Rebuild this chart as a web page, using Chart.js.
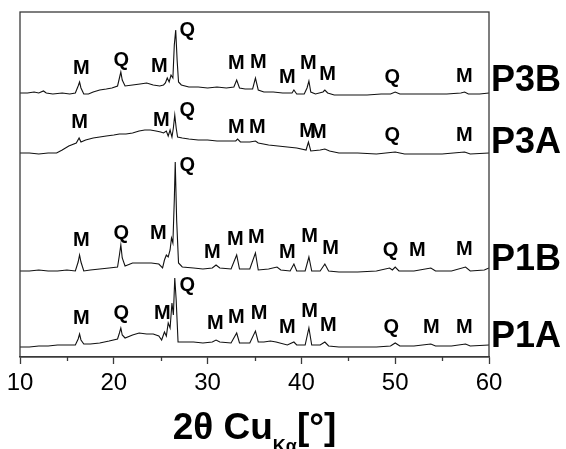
<!DOCTYPE html>
<html lang="en">
<head>
    <meta charset="UTF-8">
    <title>XRD patterns</title>
    <script src="https://cdn.jsdelivr.net/npm/chart.js"></script>
    <style>
        body { margin: 0; background: #fff; }
        #wrap { width: 566px; height: 449px; }
    </style>
</head>
<body>
    <div id="wrap"><canvas id="xrd"></canvas></div>

    <script>
        // traces, intensities offset per sample (a.u.)
        const p3bTheta = [10.0, 10.8, 11.5, 12.0, 12.5, 12.8, 13.5, 14.5, 15.3, 15.9, 16.2, 16.35, 16.5, 16.8, 17.3, 17.8, 18.5, 19.2, 19.8, 20.4, 20.6, 20.75, 20.9, 21.2, 22.0, 22.8, 23.5, 24.2, 24.9, 25.3, 25.5, 25.7, 25.9, 26.1, 26.3, 26.45, 26.6, 26.75, 26.9, 27.2, 28.0, 29.0, 30.0, 31.0, 32.0, 32.8, 33.1, 33.4, 34.0, 34.8, 35.1, 35.4, 36.0, 37.0, 38.0, 39.0, 39.2, 39.5, 40.3, 40.6, 40.8, 41.0, 41.5, 42.3, 42.5, 42.8, 43.5, 45.0, 47.0, 48.5, 49.5, 50.0, 50.5, 52.0, 54.0, 55.5, 57.0, 57.4, 57.8, 59.0, 60.0];
        const p3bCounts = [264, 264, 265, 264, 266, 264, 263, 264, 263, 264, 271, 275, 269, 263, 263, 265, 267, 268, 269, 271, 279, 285, 277, 271, 272, 273, 274, 272, 271, 272, 274, 279, 275, 282, 279, 312, 327, 297, 275, 272, 270, 270, 269, 270, 269, 270, 277, 269, 268, 268, 279, 267, 265, 265, 264, 264, 267, 263, 263, 269, 276, 265, 263, 265, 267, 264, 262, 262, 262, 263, 263, 265, 263, 263, 263, 263, 264, 265, 263, 263, 264];

        const p3aTheta = [10.0, 11.0, 12.0, 13.0, 13.9, 14.5, 15.2, 16.0, 16.3, 16.5, 17.0, 17.8, 18.5, 19.2, 20.0, 20.6, 21.3, 22.0, 22.7, 23.3, 23.9, 24.5, 25.0, 25.3, 25.6, 25.8, 26.0, 26.2, 26.35, 26.5, 26.65, 26.8, 27.3, 28.0, 29.0, 30.0, 31.0, 32.0, 33.0, 33.2, 33.5, 34.5, 35.1, 35.4, 36.5, 37.5, 38.5, 39.5, 40.5, 40.75, 41.0, 42.0, 42.5, 43.0, 44.0, 46.0, 48.0, 50.0, 51.0, 53.0, 55.0, 57.4, 58.0, 60.0];
        const p3aCounts = [204, 204, 203, 204, 204, 207, 211, 214, 219, 215, 217, 219, 220, 221, 222, 223, 223, 224, 226, 227, 227, 226, 225, 224, 226, 221, 227, 220, 229, 242, 229, 220, 219, 218, 217, 217, 216, 216, 216, 218, 215, 215, 216, 214, 212, 211, 210, 209, 207, 215, 206, 207, 208, 206, 204, 204, 203, 205, 203, 203, 203, 205, 203, 204];

        const p1bTheta = [10.0, 11.0, 12.0, 13.0, 14.0, 15.0, 15.9, 16.2, 16.35, 16.5, 16.8, 17.5, 18.5, 19.5, 20.4, 20.6, 20.75, 20.9, 21.2, 22.0, 23.0, 24.0, 24.8, 25.2, 25.4, 25.6, 25.8, 26.0, 26.15, 26.3, 26.45, 26.55, 26.7, 26.9, 27.3, 28.5, 29.5, 30.5, 30.9, 31.3, 32.5, 33.1, 33.4, 34.5, 35.1, 35.4, 36.5, 37.4, 37.8, 38.8, 39.2, 39.5, 40.4, 40.8, 41.1, 42.0, 42.5, 42.9, 44.0, 46.0, 48.0, 49.4, 49.7, 50.0, 50.4, 52.0, 53.8, 54.3, 56.0, 57.5, 58.0, 59.5, 60.0];
        const p1bCounts = [86, 86, 87, 86, 86, 87, 86, 95, 102, 95, 86, 87, 88, 89, 90, 102, 112, 99, 91, 94, 94, 94, 93, 89, 97, 102, 100, 107, 119, 114, 157, 195, 137, 94, 90, 89, 88, 89, 92, 89, 88, 102, 88, 88, 104, 87, 88, 90, 87, 86, 93, 86, 86, 100, 86, 86, 93, 86, 85, 85, 86, 89, 87, 90, 86, 86, 89, 86, 86, 90, 86, 87, 89];

        const p1aTheta = [10.0, 11.0, 12.0, 13.0, 14.0, 15.0, 15.9, 16.2, 16.35, 16.5, 16.8, 17.5, 18.5, 19.5, 20.4, 20.6, 20.75, 20.9, 21.2, 22.0, 22.7, 23.5, 24.2, 24.8, 25.1, 25.4, 25.6, 25.8, 26.0, 26.2, 26.35, 26.5, 26.65, 26.85, 27.5, 28.5, 29.5, 30.5, 30.9, 31.3, 32.5, 33.1, 33.4, 34.5, 35.1, 35.4, 36.0, 36.7, 37.3, 38.5, 39.2, 39.5, 40.4, 40.8, 41.1, 42.0, 42.5, 42.9, 44.0, 46.0, 48.0, 49.5, 50.0, 50.5, 52.0, 53.8, 54.3, 56.0, 57.5, 58.0, 60.0];
        const p1aCounts = [10, 10, 11, 11, 12, 12, 12, 18, 23, 17, 13, 13, 14, 16, 18, 24, 29, 22, 19, 22, 24, 23, 23, 21, 17, 25, 21, 34, 29, 54, 42, 79, 57, 15, 15, 15, 14, 15, 17, 15, 14, 24, 14, 14, 26, 15, 15, 16, 15, 12, 15, 12, 12, 29, 12, 12, 15, 11, 10, 10, 10, 11, 14, 11, 11, 13, 11, 11, 13, 11, 12];

        const sampleNames = ["P3B", "P3A", "P1B", "P1A"];
        const sampleLevels = [277, 215, 98, 21];

        // phase marks: M = mineral, Q = quartz
        const markText = ["M", "Q", "M", "Q", "M", "M", "M", "M", "M", "Q", "M",
                          "M", "M", "Q", "M", "M", "M", "M", "Q", "M",
                          "M", "Q", "M", "Q", "M", "M", "M", "M", "M", "M", "Q", "M", "M",
                          "M", "Q", "M", "Q", "M", "M", "M", "M", "M", "M", "Q", "M", "M"];
        const markTheta = [16.55, 20.81, 24.86, 27.84, 33.07, 35.42, 38.51, 40.75, 42.78, 49.70, 57.38,
                           16.34, 25.08, 27.84, 33.07, 35.31, 40.65, 41.80, 49.70, 57.38,
                           16.55, 20.81, 24.76, 27.84, 30.50, 32.96, 35.20, 38.51, 40.86, 43.10, 49.49, 52.37, 57.38,
                           16.55, 20.81, 25.18, 27.84, 30.82, 33.07, 35.50, 38.51, 40.86, 42.88, 49.59, 53.86, 57.38];
        const markLevel = [289, 297, 291, 327, 294, 295, 280, 294, 283, 280, 281,
                           235, 237, 247, 230, 230, 226, 225, 222, 222,
                           117, 124, 124, 192, 105, 118, 120, 105, 121, 109, 107, 107, 108,
                           39, 44, 44, 72, 34, 40, 44, 30, 46, 32, 30, 30, 30];

        const axisColor = "#3a3a3a";
        const fontFamily = "'Liberation Sans', Arial, sans-serif";

        function pairs(xs, ys) {
            return xs.map((x, i) => ({ x: x, y: ys[i] }));
        }

        const traces = [
            pairs(p3bTheta, p3bCounts),
            pairs(p3aTheta, p3aCounts),
            pairs(p1bTheta, p1bCounts),
            pairs(p1aTheta, p1aCounts)
        ];

        const decorations = {
            id: "decorations",
            afterDraw(chart) {
                const { ctx, chartArea: area, scales: { x, y } } = chart;
                ctx.save();

                // frame
                ctx.strokeStyle = axisColor;
                ctx.lineWidth = 1.3;
                ctx.strokeRect(area.left, area.top, area.right - area.left, area.bottom - area.top);

                // minor ticks
                ctx.beginPath();
                for (let v = 15; v < 60; v += 10) {
                    const px = Math.round(x.getPixelForValue(v)) + 0.5;
                    ctx.moveTo(px, area.bottom);
                    ctx.lineTo(px, area.bottom + 4);
                }
                ctx.stroke();

                // phase marks
                ctx.fillStyle = "#000";
                ctx.textAlign = "center";
                ctx.textBaseline = "middle";
                ctx.font = "bold 20px " + fontFamily;
                markText.forEach((t, i) => {
                    ctx.fillText(t, x.getPixelForValue(markTheta[i]), y.getPixelForValue(markLevel[i]));
                });

                // sample names
                ctx.textAlign = "left";
                ctx.font = "bold 36px " + fontFamily;
                sampleNames.forEach((s, i) => {
                    ctx.fillText(s, area.right + 2, y.getPixelForValue(sampleLevels[i]) + 1);
                });

                // axis title with subscript
                const big = "bold 37px " + fontFamily;
                const small = "bold 18px " + fontFamily;
                const p1 = "2\u03b8 Cu", sub = "K\u03b1", p2 = "[\u00b0]";
                ctx.font = big;
                const w1 = ctx.measureText(p1).width, w3 = ctx.measureText(p2).width;
                ctx.font = small;
                const w2 = ctx.measureText(sub).width;
                let tx = (area.left + area.right) / 2 - (w1 + w2 + w3) / 2;
                const base = 439;
                ctx.textBaseline = "alphabetic";
                ctx.font = big;
                ctx.fillText(p1, tx, base);
                tx += w1;
                ctx.font = small;
                ctx.fillText(sub, tx, base + 13);
                tx += w2;
                ctx.font = big;
                ctx.fillText(p2, tx, base);

                ctx.restore();
            }
        };

        new Chart(document.getElementById("xrd").getContext("2d"), {
            type: "line",
            data: {
                datasets: traces.map((d, i) => ({
                    label: sampleNames[i],
                    data: d,
                    borderColor: "#111",
                    borderWidth: 1.1,
                    pointRadius: 0,
                    tension: 0,
                    fill: false
                }))
            },
            options: {
                responsive: true,
                maintainAspectRatio: false,
                animation: false,
                layout: { padding: { left: 20, right: 77, top: 12, bottom: 0 } },
                plugins: { legend: { display: false }, tooltip: { enabled: false } },
                scales: {
                    x: {
                        type: "linear",
                        min: 10,
                        max: 60,
                        afterFit(scale) { scale.height = 92; },
                        ticks: {
                            stepSize: 5,
                            autoSkip: false,
                            maxRotation: 0,
                            padding: 5,
                            color: "#000",
                            font: { family: fontFamily, size: 24 },
                            callback: v => (v % 10 === 0 ? v : "")
                        },
                        grid: {
                            drawOnChartArea: false,
                            tickLength: 7,
                            tickWidth: 1.3,
                            tickColor: c => (c.tick && c.tick.value % 10 === 0 ? axisColor : "transparent")
                        },
                        border: { color: axisColor, width: 1.3 }
                    },
                    y: {
                        display: false,
                        min: 0,
                        max: 345
                    }
                }
            },
            plugins: [decorations]
        });
    </script>
</body>
</html>
